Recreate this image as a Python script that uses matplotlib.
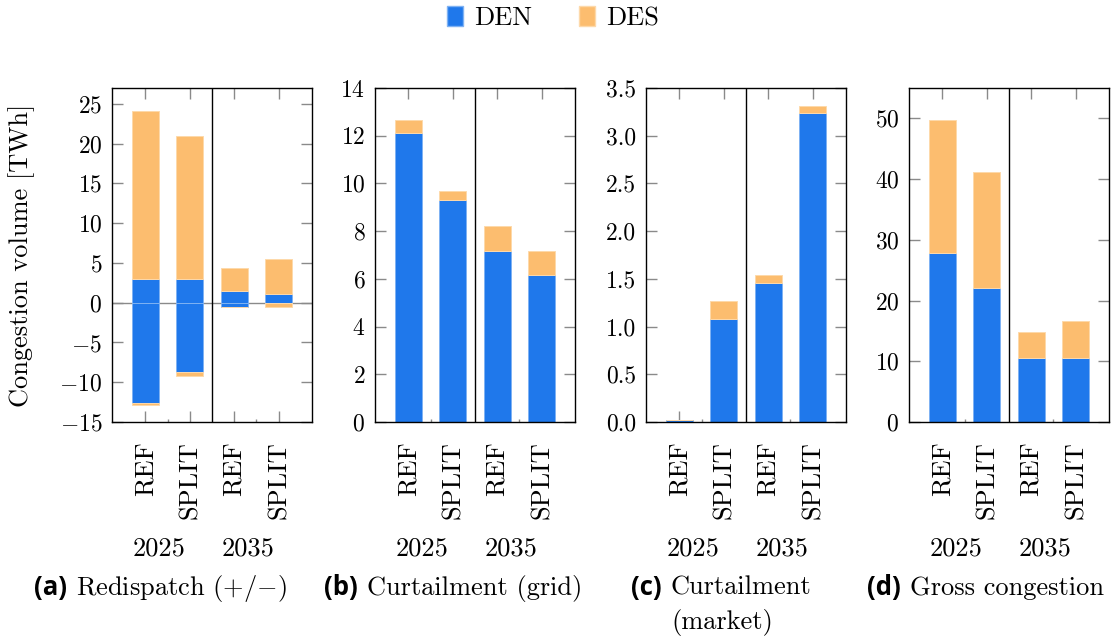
import matplotlib
matplotlib.use("Agg")
import matplotlib.pyplot as plt
from matplotlib.patches import Patch
import numpy as np

plt.rcParams['font.family'] = ['cmr10', 'DejaVu Serif']
plt.rcParams['mathtext.fontset'] = 'cm'
plt.rcParams['axes.formatter.use_mathtext'] = True
plt.rcParams['axes.unicode_minus'] = True

# ---------------- data ----------------
scenarios = ["REF", "SPLIT", "REF", "SPLIT"]
years = ["2025", "2035"]
series = ["DEN", "DES"]

# (a) Redispatch (+/-)
redisp_den_pos = [3.0, 3.0, 1.43, 1.14]
redisp_des_pos = [21.1, 18.0, 2.98, 4.4]
redisp_den_neg = [-12.6, -8.73, -0.54, -0.03]
redisp_des_neg = [-0.3, -0.5, -0.03, -0.5]

# (b) Curtailment (grid)
grid_den = [12.13, 9.29, 7.15, 6.17]
grid_des = [0.53, 0.40, 1.08, 0.99]

# (c) Curtailment (market)
market_den = [0.016, 1.075, 1.46, 3.238]
market_des = [0.0, 0.19, 0.077, 0.073]

# (d) Gross congestion
gross_den = [27.75, 22.08, 10.57, 10.57]
gross_des = [22.03, 19.16, 4.19, 6.0]

captions = [("(a)", "Redispatch $(+/{-})$", None),
            ("(b)", "Curtailment (grid)", None),
            ("(c)", "Curtailment", "(market)"),
            ("(d)", "Gross congestion", None)]

ylims = [(-15, 27), (0, 14), (0, 3.5), (0, 55)]
yticks = [np.arange(-15, 26, 5), np.arange(0, 15, 2),
          np.arange(0, 3.51, 0.5), np.arange(0, 51, 10)]

BLUE = "#1f78eb"
ORANGE = "#fcbd6f"
BLUE_E = "#7fb2f3"
ORANGE_E = "#fdd9aa"

W, H = 1114, 639
fig = plt.figure(figsize=(W / 100, H / 100), dpi=100)

ax_left_px = [112, 375, 646, 909]
ax_w_px = 200
ax_top_px, ax_bot_px = 88, 422

TICK_FS = 17
TXT_FS = 19

x = np.arange(4)
bw = 0.6

panels = [
    ((redisp_den_pos, redisp_des_pos), (redisp_den_neg, redisp_des_neg)),
    ((grid_den, grid_des), None),
    ((market_den, market_des), None),
    ((gross_den, gross_des), None),
]

axes = []
for i, (pos, neg) in enumerate(panels):
    ax = fig.add_axes([ax_left_px[i] / W, (H - ax_bot_px) / H,
                       ax_w_px / W, (ax_bot_px - ax_top_px) / H])
    axes.append(ax)
    den, des = pos
    ax.bar(x, den, bw, color=BLUE, edgecolor=BLUE_E, linewidth=0.7, zorder=3)
    ax.bar(x, des, bw, bottom=den, color=ORANGE, edgecolor=ORANGE_E,
           linewidth=0.7, zorder=3)
    if neg is not None:
        nden, ndes = neg
        ax.bar(x, nden, bw, color=BLUE, edgecolor=BLUE_E, linewidth=0.7, zorder=3)
        ax.bar(x, ndes, bw, bottom=nden, color=ORANGE, edgecolor=ORANGE_E,
               linewidth=0.7, zorder=3)
        ax.axhline(0, color="#8a8a8a", lw=1.0, zorder=1)
    ax.axvline(1.5, color="black", lw=1.0, zorder=4)
    ax.set_xlim(-0.75, 3.75)
    ax.set_ylim(*ylims[i])
    ax.set_yticks(yticks[i])
    if i == 2:
        ax.set_yticklabels([f"{v:.1f}" for v in yticks[i]])
    ax.set_xticks(x)
    ax.set_xticklabels(scenarios, rotation=90, ha="center", va="top",
                       fontsize=TXT_FS)
    ax.set_xticks([0.5, 2.5], minor=True)
    ax.tick_params(axis="x", which="major", direction="in", length=8,
                   width=1.0, color="#8a8a8a", top=True, bottom=True, pad=14)
    ax.tick_params(axis="x", which="minor", direction="in", length=2,
                   width=1.0, color="#8a8a8a", top=False, bottom=True)
    ax.tick_params(axis="y", which="major", direction="in", length=8,
                   width=1.0, color="#8a8a8a", left=True, right=True,
                   labelsize=TICK_FS, pad=7)
    for sp in ax.spines.values():
        sp.set_color("black")
        sp.set_linewidth(1.0)
        sp.set_zorder(5)

    # year labels
    for g, yr in enumerate(years):
        gx = 2 * g + 0.5 - 0.18
        ax.text(gx, -(549 - ax_bot_px) / (ax_bot_px - ax_top_px), yr,
                transform=ax.get_xaxis_transform(), ha="center", va="center",
                fontsize=TXT_FS)

# y label
fig.text(22 / W, 1 - 255 / H, "Congestion volume [TWh]", rotation=90,
         ha="center", va="center", fontsize=TXT_FS)

# captions
cap_lab_right = [67, 358, 662, 901]
for i, (lab, txt, txt2) in enumerate(captions):
    xr = cap_lab_right[i]
    fig.text(xr / W, 1 - 588 / H, lab, ha="right", va="center",
             fontsize=TXT_FS - 0.5, fontweight="bold",
             family=["Open Sans", "DejaVu Sans"])
    fig.text((xr + 9) / W, 1 - 588 / H, txt, ha="left", va="center",
             fontsize=TXT_FS)
    if txt2:
        fig.text((xr + 9) / W, 1 - 622 / H, txt2, ha="left", va="center",
                 fontsize=TXT_FS)

# legend
handles = [Patch(facecolor=BLUE, edgecolor=BLUE_E, label=series[0]),
           Patch(facecolor=ORANGE, edgecolor=ORANGE_E, label=series[1])]
fig.legend(handles=handles, loc="center", bbox_to_anchor=(553 / W, 1 - 18 / H),
           ncol=2, frameon=False, prop={"family": "cmr10", "size": TXT_FS},
           handlelength=0.6, handleheight=0.8, handletextpad=0.4,
           columnspacing=1.8)

fig.savefig("out.png", dpi=100)
